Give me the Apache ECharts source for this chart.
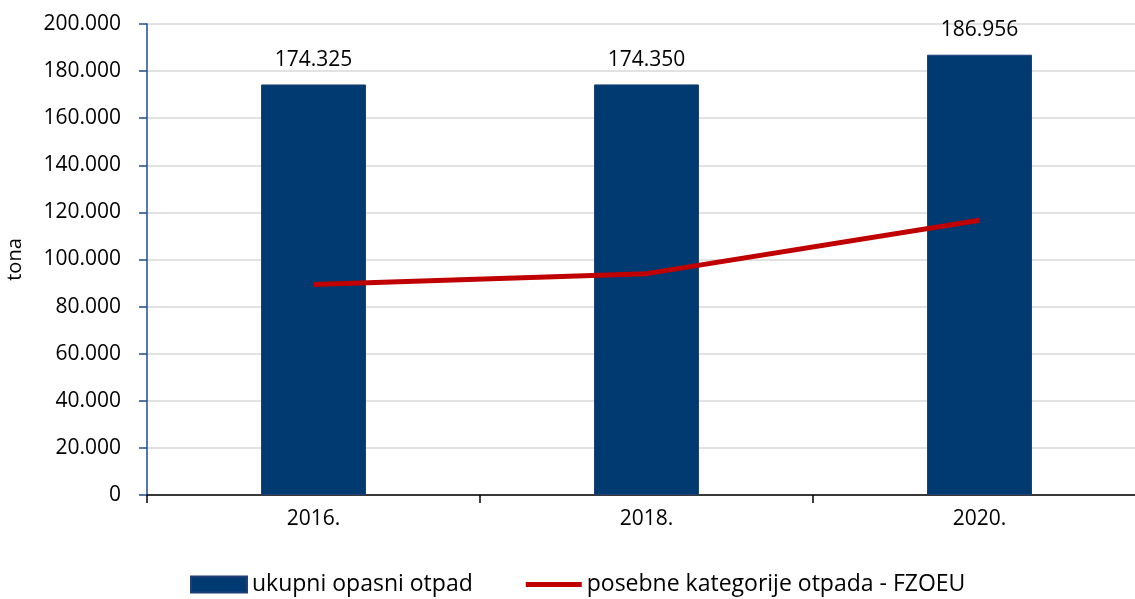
<!DOCTYPE html>
<html>
<head>
<meta charset="utf-8">
<script src="https://cdn.jsdelivr.net/npm/echarts@6/dist/echarts.min.js"></script>
<style>
  html, body { margin: 0; padding: 0; background: #fff; }
  #chart { width: 1135px; height: 599px; }
</style>
</head>
<body>
<div id="chart"></div>
<script>
// podaci
const years = ['2016.', '2018.', '2020.']
const ukupniOpasni = [174325, 174350, 186956]
const posebneKategorije = [89400, 94000, 116700]
const yTicks = { min: 0, max: 200000, interval: 20000 }

// 174325 -> 174.325
function fmt(v) {
  return String(Math.round(v)).replace(/\B(?=(\d{3})+(?!\d))/g, '.')
}

const chart = echarts.init(document.getElementById('chart'))
const font = '"Open Sans", "Noto Sans", sans-serif'
const fs = 21

const option = {
  animation: false,
  textStyle: { fontFamily: font },
  grid: {
    left: 147,
    top: 24,
    bottom: 104,
    right: -11,
    containLabel: false,
    outerBoundsMode: 'none'
  },
  legend: {
    left: 185,
    top: 568,
    itemWidth: 56,
    itemHeight: 16,
    itemGap: 53,
    textStyle: { fontSize: 23, color: '#000', fontFamily: font },
    data: [
      { name: 'ukupni opasni otpad', icon: 'rect' },
      // prazni M pomaci drze visinu ikone, crta je debela 5px
      { name: 'posebne kategorije otpada - FZOEU', icon: 'path://M0,0 M0,16 M0,5.5 h56 v5 h-56 z' }
    ]
  },
  xAxis: {
    type: 'category',
    data: years,
    axisLine: { lineStyle: { color: '#000', width: 1.5 } },
    axisTick: { show: true, length: 8, lineStyle: { color: '#000', width: 1.5 } },
    axisLabel: { fontSize: fs, color: '#000', margin: 14 }
  },
  yAxis: {
    type: 'value',
    min: yTicks.min,
    max: yTicks.max,
    interval: yTicks.interval,
    name: 'tona',
    nameLocation: 'middle',
    nameGap: 122,
    nameTextStyle: { fontSize: 20, color: '#000' },
    axisLine: { show: true, lineStyle: { color: '#1f4e8c', width: 1.5 } },
    axisTick: { show: true, length: 8, lineStyle: { color: '#1f4e8c', width: 1.5 } },
    axisLabel: {
      fontSize: fs,
      color: '#000',
      margin: 26,
      formatter: fmt
    },
    splitLine: { lineStyle: { color: '#d9d9d9', width: 1.5 } }
  },
  series: [
    {
      name: 'ukupni opasni otpad',
      type: 'bar',
      barWidth: 105,
      data: ukupniOpasni,
      itemStyle: { color: '#003a70', borderColor: '#1f3f75', borderWidth: 1 },
      label: {
        show: true,
        position: 'top',
        distance: 14,
        fontSize: fs,
        color: '#000',
        formatter: p => fmt(p.value)
      },
      z: 2
    },
    {
      name: 'posebne kategorije otpada - FZOEU',
      type: 'line',
      data: posebneKategorije,
      symbol: 'none',
      lineStyle: { color: '#c00000', width: 5 },
      itemStyle: { color: '#c00000' },
      z: 3
    }
  ]
}

chart.setOption(option)
</script>
</body>
</html>
